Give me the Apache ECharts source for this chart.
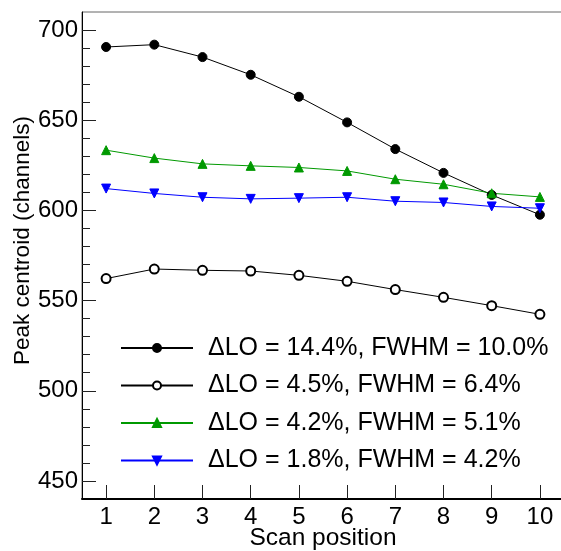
<!DOCTYPE html>
<html>
<head>
<meta charset="utf-8">
<script src="https://cdn.jsdelivr.net/npm/echarts@6/dist/echarts.min.js"></script>
<style>html,body{margin:0;padding:0;background:#fff;}#c{width:561px;height:551px;}</style>
</head>
<body>
<div id="c"></div>
<script>
const scanPositions = [1, 2, 3, 4, 5, 6, 7, 8, 9, 10];
const seriesNames = [
  'ΔLO = 14.4%, FWHM = 10.0%',
  'ΔLO = 4.5%, FWHM = 6.4%',
  'ΔLO = 4.2%, FWHM = 5.1%',
  'ΔLO = 1.8%, FWHM = 4.2%'
];
const lo144 = [690.6, 691.9, 685.0, 675.2, 663.0, 648.8, 634.0, 620.8, 608.6, 597.6];
const lo45  = [562.2, 567.5, 566.8, 566.4, 564.0, 560.7, 556.1, 551.8, 547.2, 542.4];
const lo42  = [633.4, 629.0, 625.8, 624.7, 623.8, 621.9, 617.3, 614.5, 609.5, 607.5];
const lo18  = [612.1, 609.4, 607.3, 606.4, 606.8, 607.3, 605.1, 604.4, 602.2, 601.2];
const yMajorTicks = [450, 500, 550, 600, 650, 700];
const yMinorTicks = [460, 470, 480, 490, 510, 520, 530, 540, 560, 570, 580, 590,
                     610, 620, 630, 640, 660, 670, 680, 690];
const xTicks = [1, 2, 3, 4, 5, 6, 7, 8, 9, 10];

const FONT = "'Liberation Sans', Arial, Helvetica, sans-serif";
const pairs = arr => scanPositions.map((x, i) => [x, arr[i]]);

const chart = echarts.init(document.getElementById('c'), null, {renderer: 'canvas'});
const mkSeries = (name, arr, color, symbol, rotate) => ({
  name, type: 'line', data: pairs(arr),
  symbol, symbolSize: 9, symbolRotate: rotate || 0,
  lineStyle: {color, width: 1},
  itemStyle: {color, borderColor: color, borderWidth: 1},
  emphasis: {disabled: true},
  animation: false
});

chart.setOption({
  animation: false,
  grid: {left: 82, right: -3, top: 12, bottom: 52, containLabel: false, outerBoundsMode: 'none',
         show: true, borderColor: '#666', borderWidth: 1, backgroundColor: 'transparent'},
  legend: {
    orient: 'vertical', left: 120, top: 335, padding: 0,
    itemWidth: 72, itemHeight: 10, itemGap: 11.5,
    textStyle: {fontFamily: FONT, fontSize: 25, color: '#000', lineHeight: 26, padding: [0, 0, 0, 10]},
    data: seriesNames
  },
  xAxis: [{
    type: 'value', min: 0.5, max: 10.5,
    name: 'Scan position', nameLocation: 'middle', nameGap: 27, nameMoveOverlap: false,
    nameTextStyle: {fontFamily: FONT, fontSize: 24.5, color: '#000'},
    axisLine: {show: true, onZero: false, lineStyle: {color: '#000', width: 2}},
    axisTick: {show: true, inside: true, length: 14, customValues: xTicks, lineStyle: {color: '#222', width: 1}},
    axisLabel: {customValues: xTicks, fontFamily: FONT, fontSize: 24, color: '#000', margin: 6},
    splitLine: {show: false}
  }],
  yAxis: [{
    type: 'value', min: 440, max: 710,
    name: 'Peak centroid (channels)', nameLocation: 'middle', nameGap: 48, nameMoveOverlap: false,
    nameTextStyle: {fontFamily: FONT, fontSize: 22.5, color: '#000', padding: [0, 0, 0, 30]},
    axisLine: {show: true, onZero: false, lineStyle: {color: '#000', width: 1}},
    axisTick: {show: true, inside: true, length: 14, customValues: yMajorTicks, lineStyle: {color: '#222', width: 1}},
    axisLabel: {customValues: yMajorTicks, fontFamily: FONT, fontSize: 24, color: '#000', margin: 4},
    splitLine: {show: false}
  }, {
    type: 'value', min: 440, max: 710, position: 'left',
    axisLine: {show: false},
    axisTick: {show: true, inside: true, length: 8, customValues: yMinorTicks, lineStyle: {color: '#222', width: 1}},
    axisLabel: {show: false},
    splitLine: {show: false}
  }],
  series: [
    mkSeries(seriesNames[0], lo144, '#000000', 'circle'),
    mkSeries(seriesNames[1], lo45, '#000000', 'emptyCircle'),
    mkSeries(seriesNames[2], lo42, '#009900', 'triangle'),
    mkSeries(seriesNames[3], lo18, '#0000ff', 'triangle', 180)
  ]
});
</script>
</body>
</html>
